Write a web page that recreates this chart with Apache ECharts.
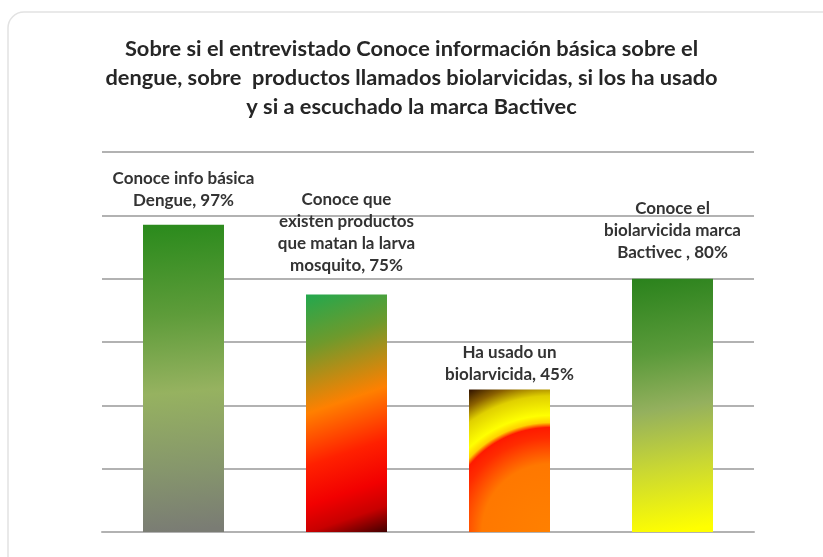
<!DOCTYPE html>
<html>
<head>
<meta charset="utf-8">
<script src="https://cdn.jsdelivr.net/npm/echarts@6/dist/echarts.min.js"></script>
<style>
  html, body { margin: 0; padding: 0; background: #fff; }
  #chart { width: 823px; height: 557px; }
</style>
</head>
<body>
<div id="chart"></div>
<script>
// datos
const categorias = [
    "Conoce info básica\nDengue, 97%",
    "Conoce que\nexisten productos\nque matan la larva\nmosquito, 75%",
    "Ha usado un\nbiolarvicida, 45%",
    "Conoce el\nbiolarvicida marca\nBactivec , 80%"
];
const valores = [97, 75, 45, 80];
const distanciaEtiqueta = [13, 18, 4, 15];

const titulo = "Sobre si el entrevistado Conoce información básica sobre el\ndengue, sobre  productos llamados biolarvicidas, si los ha usado\ny si a escuchado la marca Bactivec";

// rellenos de cada barra (imitan los degradados de Excel)
const rellenos = [
    {
        type: "linear", x: 0, y: 0, x2: 0.3, y2: 1,
        colorStops: [
            { offset: 0, color: "#2a8a1c" },
            { offset: 0.3, color: "#5e9c3a" },
            { offset: 0.55, color: "#96b260" },
            { offset: 0.8, color: "#86966c" },
            { offset: 1, color: "#7a7c74" },
        ],
    },
    {
        type: "linear", x: 0, y: 0, x2: 1, y2: 1,
        colorStops: [
            { offset: 0, color: "#22a84e" },
            { offset: 0.2, color: "#6e9a2c" },
            { offset: 0.45, color: "#ff8000" },
            { offset: 0.65, color: "#ff2000" },
            { offset: 0.8, color: "#f20000" },
            { offset: 0.9, color: "#c80000" },
            { offset: 1, color: "#420000" },
        ],
    },
    {
        type: "radial", x: 1, y: 1, r: 2,
        colorStops: [
            { offset: 0, color: "#ff8000" },
            { offset: 0.42, color: "#ff7800" },
            { offset: 0.58, color: "#ff2c00" },
            { offset: 0.645, color: "#ff1a00" },
            { offset: 0.675, color: "#ffd000" },
            { offset: 0.72, color: "#ffff00" },
            { offset: 0.84, color: "#e0d000" },
            { offset: 0.92, color: "#8a6000" },
            { offset: 1, color: "#3a1a00" },
        ],
    },
    {
        type: "linear", x: 0, y: 0, x2: 0.5, y2: 1,
        colorStops: [
            { offset: 0, color: "#2a821c" },
            { offset: 0.3, color: "#5a9a3a" },
            { offset: 0.52, color: "#94b05e" },
            { offset: 0.75, color: "#cad832" },
            { offset: 1, color: "#ffff00" },
        ],
    },
];

const chart = echarts.init(document.getElementById("chart"));

const lineaGris = { color: "#b2b2b2", width: 2 };

chart.setOption({
    backgroundColor: "#ffffff",
    animation: false,
    graphic: [
        {
            type: "rect",
            shape: { x: 8, y: 12, width: 840, height: 570, r: 16 },
            style: { fill: "none", stroke: "#e2e2e2", lineWidth: 1.5 },
            silent: true,
        },
    ],
    title: {
        text: titulo,
        left: "center",
        top: 29,
        textStyle: {
            fontFamily: "Lato",
            fontWeight: "bold",
            fontSize: 21.8,
            lineHeight: 29,
            color: "#262626",
        },
    },
    grid: {
        left: 102,
        right: 69,
        top: 152,
        bottom: 25,
    },
    xAxis: {
        type: "category",
        data: categorias,
        axisLine: { show: true, lineStyle: lineaGris },
        axisTick: { show: false },
        axisLabel: { show: false },
    },
    yAxis: {
        type: "value",
        min: 0,
        max: 120,
        interval: 20,
        axisLine: { show: false },
        axisTick: { show: false },
        axisLabel: { show: false },
        splitLine: { lineStyle: lineaGris },
    },
    series: [
        {
            type: "bar",
            barWidth: 81,
            data: valores.map((v, i) => ({
                value: v,
                itemStyle: { color: rellenos[i] },
                label: { distance: distanciaEtiqueta[i] },
            })),
            label: {
                show: true,
                position: "top",
                formatter: (p) => categorias[p.dataIndex],
                fontFamily: "Lato",
                fontWeight: "bold",
                fontSize: 17,
                lineHeight: 22,
                color: "#333333",
                align: "center",
            },
        },
    ],
});
</script>
</body>
</html>
